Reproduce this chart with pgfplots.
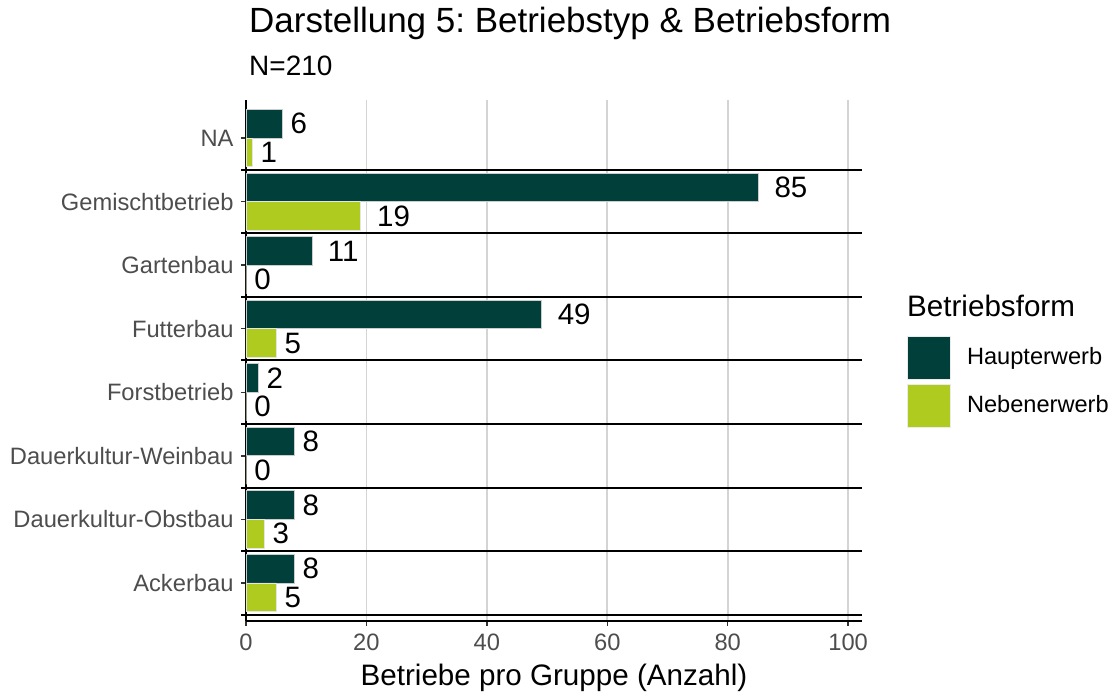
\documentclass[border=0pt]{standalone}
\usepackage{pgfplots}
\pgfplotsset{compat=1.18}
\usepackage{fontspec}
\setmainfont{Liberation Sans}
\usepackage{graphicx}
\frenchspacing
\definecolor{hauptc}{HTML}{003F3A}
\definecolor{nebenc}{HTML}{AFCB1F}
\definecolor{tickgrey}{HTML}{4D4D4D}
\definecolor{gridgrey}{HTML}{D4D4D4}
\newcommand{\lbl}[1]{\scalebox{0.5}[1]{\phantom{#1}}#1}
\pgfplotsset{sqlegend/.style={legend image code/.code={\draw[##1, draw=black!8, line width=1pt] (0pt,-23pt) rectangle (43pt,20pt);}}}
\begin{document}
\begin{tikzpicture}
\begin{axis}[
  scale only axis, width=616pt, height=521pt,
  xbar, bar width=0.45,
  xmin=0, xmax=102.3, ymin=-0.6, ymax=7.6,
  enlargelimits=false, clip=false,
  axis lines=left,
  axis line style={-, line width=2pt, black},
  tick align=outside, major tick length=5pt,
  tick style={line width=1.5pt, color=black!80},
  xtick={0,20,40,60,80,100},
  ytick={0,1,2,3,4,5,6,7},
  yticklabels={Ackerbau,Dauerkultur-Obstbau,Dauerkultur-Weinbau,Forstbetrieb,Futterbau,Gartenbau,Gemischtbetrieb,NA},
  /pgf/number format/assume math mode=true,
  ticklabel style={font=\fontsize{23.7}{28}\selectfont, color=tickgrey},
  xticklabel style={yshift=-4pt},
  yticklabel style={xshift=-4pt},
  xmajorgrids, grid style={line width=1.8pt, color=gridgrey},
  xlabel={Betriebe pro Gruppe (Anzahl)},
  xlabel style={at={(rel axis cs:0.5,0)}, anchor=base, yshift=-65pt, font=\fontsize{29.6}{34}\selectfont},
  nodes near coords={\lbl{\pgfmathprintnumber{\pgfplotspointmeta}}},
  every node near coord/.append style={anchor=west, inner xsep=0pt, font=\fontsize{29.5}{34}\selectfont, text=black},
  legend style={at={(axis description cs:1.0731,0.547)}, anchor=north west, draw=none, fill=none, inner sep=0pt, outer sep=0pt, row sep=4pt, column sep=14pt, font=\fontsize{23.6}{28}\selectfont},
  legend cell align=left,
]
\addplot[fill=hauptc, draw=black!20, line width=0.6pt, bar shift=0.225, sqlegend] coordinates {(8,0) (8,1) (8,2) (2,3) (49,4) (11,5) (85,6) (6,7)};
\addlegendentry{Haupterwerb}
\addplot[fill=nebenc, draw=black!10, line width=0.6pt, bar shift=-0.225, sqlegend] coordinates {(5,0) (3,1) (0,2) (0,3) (5,4) (0,5) (19,6) (1,7)};
\addlegendentry{Nebenerwerb}
\pgfplotsinvokeforeach{-0.5,0.5,1.5,2.5,3.5,4.5,5.5,6.5}{
  \draw[line width=2pt, black] (axis cs:-0.75,#1) -- (axis cs:102.3,#1);
}
\node[anchor=base west, inner sep=0pt, font=\fontsize{35}{40}\selectfont, xshift=3pt, yshift=67pt] at (rel axis cs:0,1) {Darstellung 5: Betriebstyp \& Betriebsform};
\node[anchor=base west, inner sep=0pt, font=\fontsize{28}{32}\selectfont, xshift=3pt, yshift=24pt] at (rel axis cs:0,1) {N=210};
\node[anchor=base west, inner sep=0pt, font=\fontsize{29.6}{34}\selectfont, xshift=45pt, yshift=304pt] at (rel axis cs:1,0) {Betriebsform};
\coordinate (SW) at (rel axis cs:0,0);
\coordinate (NE) at (rel axis cs:1,1);
\end{axis}
\path ([xshift=-246pt,yshift=-72pt]SW) rectangle ([xshift=250pt,yshift=100pt]NE);
\end{tikzpicture}
\end{document}
